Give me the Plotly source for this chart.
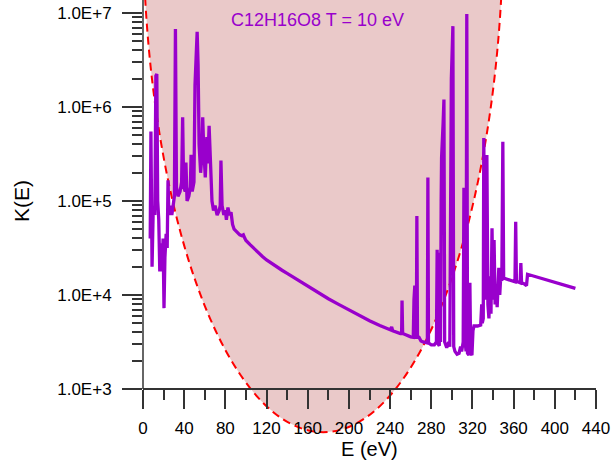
import plotly.graph_objects as go

# ---- data ----
energy_eV = [
    7.0, 7.7, 8.8, 10.0, 11.5, 12.5, 13.4, 14.3, 15.3, 16.3, 17.3, 18.5, 19.5, 20.4, 21.3,
    22.5, 23.5, 24.3, 25.2, 26.5, 28.0, 29.5, 30.5, 31.5, 32.5, 34.0, 36.0, 37.5, 38.5, 39.5,
    41.0, 41.7, 42.8, 44.5, 46.0, 46.7, 47.8, 49.5, 50.5, 52.6, 53.5, 54.5, 56.0, 57.0, 58.0,
    59.0, 60.5, 62.0, 63.0, 64.2, 65.5, 67.0, 68.5, 70.0, 72.0, 74.0, 75.0, 75.7, 76.8, 78.5,
    80.0, 81.0, 82.5, 84.0, 85.5, 87.0, 88.5, 90.0, 92.0, 94.0, 96.0, 97.5, 99.0, 100.0, 104.0,
    108, 112, 116, 120, 125, 130, 135, 140, 145, 150, 160, 170, 180, 190, 200, 210, 220, 230, 240,
    241.5, 242.5, 250, 251.2, 251.6, 252.2, 260, 262.5, 263.2, 264.0, 264.6, 265.5, 266.0, 266.6,
    268, 270, 272, 276.2, 276.7, 277.3, 280, 283, 285, 285.7, 286.5, 287.8, 288.4, 289.0,
    289.6, 290.0, 291.5, 292.3, 293.0, 295, 297, 298, 299.5, 300.2, 301.0, 301.8, 303, 305,
    307, 308.5, 309.5, 311.0, 311.7, 312.5, 313.8, 314.5, 315.2, 316.5, 317.5, 318.3, 319.5,
    320.5, 321.5, 325, 328, 329, 329.5, 330.5, 331.0, 332.0, 333.0, 334.0, 335.0, 336.0, 337.0,
    338.0, 339.0, 340.0, 341.0, 342.0, 343.0, 344.0, 345.6, 346.5, 347.5, 348.5, 349.5, 350.3,
    353, 356, 359, 361.3, 362.0, 362.7, 364, 366.3, 367.0, 367.7, 370, 372.5, 373.5, 420,
]
log10_K = [
    4.60, 5.74, 4.30, 4.95, 4.85, 6.33, 6.35, 5.00, 4.80, 4.25, 4.55, 4.25, 4.60, 3.86, 4.40,
    4.65, 4.50, 5.22, 4.85, 4.95, 4.85, 4.95, 5.05, 6.83, 5.15, 5.05, 5.10, 5.20, 5.89, 5.15,
    5.10, 5.41, 5.00, 5.05, 5.15, 5.49, 5.10, 5.20, 6.23, 6.80, 6.45, 5.60, 5.30, 5.45, 5.89,
    5.55, 5.25, 5.68, 5.40, 5.80, 5.30, 5.00, 4.90, 4.95, 4.85, 4.90, 4.95, 5.43, 4.95, 4.85,
    4.90, 4.80, 4.93, 4.85, 4.88, 4.75, 4.70, 4.68, 4.66, 4.64, 4.63, 4.64, 4.60, 4.58, 4.535,
    4.49, 4.45, 4.41, 4.373, 4.333, 4.297, 4.263, 4.23, 4.196, 4.162, 4.093, 4.025, 3.96, 3.90,
    3.84, 3.78, 3.725, 3.675, 3.63,
    3.66, 3.62, 3.59, 3.59, 3.94, 3.59, 3.555, 3.55, 3.95, 4.10, 3.55, 3.55, 4.84, 3.56,
    3.55, 3.51, 3.50, 3.49, 5.25, 3.49, 3.47, 3.47, 3.50, 4.48, 3.48, 3.46, 4.45, 3.50,
    5.00, 5.46, 5.83, 6.08, 3.50, 3.44, 3.50, 3.45, 6.30, 6.79, 6.86, 3.45, 3.40, 3.37,
    3.38, 3.45, 3.40, 3.50, 5.14, 3.55, 3.40, 6.99, 3.38, 3.36, 4.13, 3.38, 3.36,
    3.62, 3.67, 3.67, 3.68, 3.90, 3.70, 3.75, 5.67, 4.10, 3.95, 5.49, 3.90, 3.75, 4.20,
    3.80, 4.71, 3.95, 4.585, 3.90, 4.10, 3.87, 4.29, 4.00, 4.20, 4.15, 5.63, 4.18,
    4.17, 4.16, 4.15, 4.14, 4.78, 4.14, 4.14, 4.13, 4.34, 4.13, 4.12, 4.10, 4.22, 4.07,
]
K_values = [10 ** v for v in log10_K]

x_ticks = list(range(0, 441, 40))
y_tickvals = [1e3, 1e4, 1e5, 1e6, 1e7]
y_ticktext = ["1.0E+3", "1.0E+4", "1.0E+5", "1.0E+6", "1.0E+7"]
y_minor = [m * 10 ** d for d in range(3, 7) for m in range(2, 10)]

# elliptical (in log space) region: bounding box in data units
ell_x0, ell_x1 = 0, 350
ell_y0, ell_y1 = 10 ** 2.54, 10 ** 13.46

title_text = "C12H16O8 T = 10 eV"

# ---- layout geometry ----
W, H = 613, 462
ML, MR = 143, 17
y_range = [2.223, 7.138]        # log10 range of the plot area
x_axis_at = 3.0                 # x-axis drawn at K = 1e3
x_pos = (x_axis_at - y_range[0]) / (y_range[1] - y_range[0])

purple = "#9900cc"
axc = "#333333"
font_family = "Arial, Liberation Sans, sans-serif"

fig = go.Figure()
fig.add_trace(go.Scatter(
    x=energy_eV, y=K_values, mode="lines",
    line=dict(color=purple, width=3.3), hoverinfo="skip", showlegend=False,
))

fig.add_shape(type="circle", xref="x", yref="y",
              x0=ell_x0, x1=ell_x1, y0=ell_y0, y1=ell_y1,
              fillcolor="#eac9c9", line=dict(color="#ff0000", width=2, dash="8px,5px"),
              layer="below")
# y-axis line from 1e3 upward
fig.add_shape(type="line", xref="paper", yref="y", x0=0, x1=0, y0=1e3, y1=1e8,
              line=dict(color=axc, width=1.5), layer="above")

fig.update_layout(
    width=W, height=H,
    margin=dict(l=ML, r=MR, t=0, b=0),
    paper_bgcolor="white", plot_bgcolor="white",
    template="none",
    font=dict(family=font_family, color="black"),
    xaxis=dict(
        range=[0, 440], anchor="free", position=x_pos,
        showline=True, linecolor=axc, linewidth=1.5,
        ticks="outside", ticklen=19, tickwidth=1.5, tickcolor=axc,
        tickvals=x_ticks, tickfont=dict(size=17, family=font_family),
        ticklabelstandoff=5,
        minor=dict(ticks="outside", ticklen=10, tickwidth=1.5, tickcolor=axc, dtick=20, tick0=0),
        showgrid=False, zeroline=False, automargin=False,
    ),
    yaxis=dict(
        type="log", range=y_range, showline=False,
        ticks="outside", ticklen=20, tickwidth=1.5, tickcolor=axc,
        tickvals=y_tickvals, ticktext=y_ticktext, tickfont=dict(size=17, family=font_family),
        ticklabelstandoff=7,
        minor=dict(ticks="outside", ticklen=10, tickwidth=1.5, tickcolor=axc,
                   tickmode="array", tickvals=y_minor),
        showgrid=False, zeroline=False, automargin=False,
    ),
    annotations=[
        dict(text=title_text, xref="paper", yref="paper", x=(317 - ML) / (W - ML - MR), y=1 - 20 / H,
             showarrow=False, font=dict(size=18, color=purple, family=font_family),
             xanchor="center", yanchor="middle"),
        dict(text="K(E)", xref="paper", yref="y", x=(22 - ML) / (W - ML - MR), y=5,
             showarrow=False, textangle=-90, font=dict(size=21, family=font_family),
             xanchor="center", yanchor="middle"),
        dict(text="E (eV)", xref="paper", yref="paper", x=0.5, y=1 - 449 / H,
             showarrow=False, font=dict(size=20, family=font_family),
             xanchor="center", yanchor="middle"),
    ],
)

fig.write_html("out.html")
